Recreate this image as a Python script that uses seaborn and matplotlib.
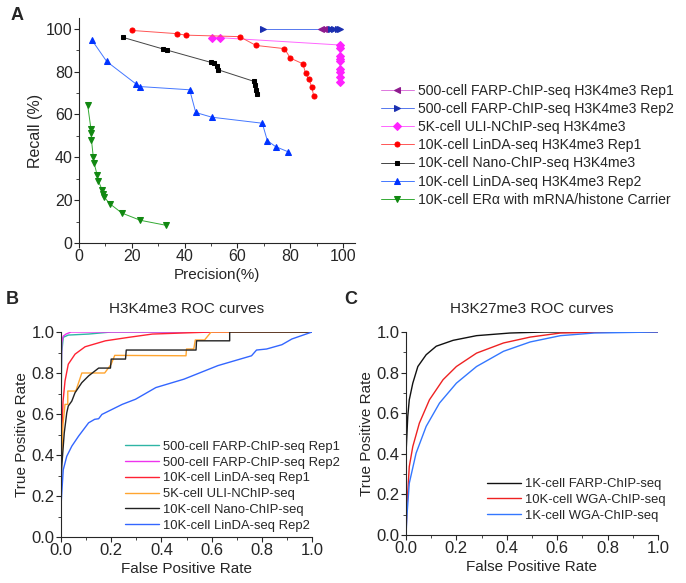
import matplotlib.pyplot as plt
from matplotlib.ticker import MultipleLocator
import seaborn as sns

# ---- panel A: precision / recall (%) ----
farp1_prec = [91.7, 92.6]
farp1_rec = [100.0, 100.0]
farp2_prec = [69.6, 95.3, 96.7, 98.0, 98.9]
farp2_rec = [100.0, 100.0, 100.0, 100.0, 100.0]
uli_prec = [50.2, 53.4, 98.8, 98.8, 98.8, 98.8, 98.8, 98.8, 98.8, 98.8, 98.8]
uli_rec = [95.8, 95.8, 92.4, 91.0, 87.4, 86.0, 84.8, 81.2, 80.0, 77.6, 75.0]
linda1_prec = [19.9, 37.0, 40.4, 60.8, 67.0, 77.8, 80.0, 84.8, 85.8, 87.1, 88.1, 88.9]
linda1_rec = [99.2, 97.7, 97.0, 96.3, 92.2, 90.7, 86.3, 83.6, 79.1, 76.3, 72.9, 68.5]
nano_prec = [16.8, 31.9, 33.4, 49.9, 51.1, 52.2, 52.8, 66.3, 66.6, 66.9, 67.4]
nano_rec = [95.9, 90.5, 90.0, 84.3, 83.8, 82.7, 80.8, 75.4, 73.8, 71.5, 69.6]
linda2_prec = [5.0, 10.5, 21.6, 23.1, 41.9, 44.2, 50.3, 69.4, 71.3, 74.4, 79.3]
linda2_rec = [94.5, 84.7, 74.2, 73.0, 71.5, 60.9, 58.7, 55.9, 47.8, 45.0, 42.5]
era_prec = [3.3, 4.5, 4.6, 4.7, 5.4, 5.7, 6.9, 7.3, 8.7, 9.1, 9.5, 11.6, 16.2, 23.2, 32.8]
era_rec = [64.2, 53.4, 51.4, 48.3, 40.2, 37.4, 31.6, 29.1, 24.9, 23.1, 21.5, 18.4, 14.0, 10.6, 8.3]

labels_a = ["500-cell FARP-ChIP-seq H3K4me3 Rep1",
            "500-cell FARP-ChIP-seq H3K4me3 Rep2",
            "5K-cell ULI-NChIP-seq H3K4me3",
            "10K-cell LinDA-seq H3K4me3 Rep1",
            "10K-cell Nano-ChIP-seq H3K4me3",
            "10K-cell LinDA-seq H3K4me3 Rep2",
            "10K-cell ERα with mRNA/histone Carrier"]

# ---- panel B: H3K4me3 ROC ----
b_farp1_fpr = [0, 0.0, 0.003, 0.009, 0.029, 0.11, 0.2, 1.0]
b_farp1_tpr = [0, 0.6, 0.9, 0.974, 0.985, 0.99, 1.0, 1.0]
b_farp2_fpr = [0, 0.0, 0.003, 0.009, 0.02, 0.04, 1.0]
b_farp2_tpr = [0, 0.7, 0.95, 0.98, 0.99, 1.0, 1.0]
b_linda1_fpr = [0, 0.0, 0.003, 0.008, 0.016, 0.029, 0.056, 0.096, 0.177, 0.27, 0.364, 0.6, 1.0]
b_linda1_tpr = [0, 0.3, 0.5, 0.66, 0.761, 0.843, 0.892, 0.928, 0.957, 0.974, 0.99, 1.0, 1.0]
b_uli_fpr = [0, 0.0, 0.008, 0.016, 0.027, 0.027, 0.059, 0.083, 0.174, 0.2, 0.214, 0.498, 0.5,
             0.529, 0.535, 0.572, 0.598, 1.0]
b_uli_tpr = [0, 0.3, 0.55, 0.647, 0.647, 0.712, 0.712, 0.80, 0.80, 0.843, 0.886, 0.884, 0.917,
             0.917, 0.961, 0.961, 1.0, 1.0]
b_nano_fpr = [0, 0.0, 0.003, 0.013, 0.023, 0.029, 0.043, 0.056, 0.083, 0.11, 0.15, 0.197, 0.2,
              0.257, 0.26, 0.538, 0.54, 0.672, 0.672, 1.0]
b_nano_tpr = [0, 0.2, 0.345, 0.508, 0.606, 0.639, 0.663, 0.704, 0.753, 0.786, 0.824, 0.824, 0.868,
              0.868, 0.912, 0.912, 0.957, 0.957, 1.0, 1.0]
b_linda2_fpr = [0, 0.0, 0.003, 0.009, 0.023, 0.043, 0.07, 0.11, 0.134, 0.15, 0.163, 0.244, 0.297,
                0.378, 0.49, 0.625, 0.759, 0.779, 0.819, 0.88, 0.92, 1.0]
b_linda2_tpr = [0, 0.15, 0.214, 0.328, 0.394, 0.443, 0.492, 0.557, 0.574, 0.577, 0.598, 0.647, 0.672,
                0.729, 0.77, 0.836, 0.884, 0.912, 0.917, 0.938, 0.966, 1.0]

labels_b = ["500-cell FARP-ChIP-seq Rep1", "500-cell FARP-ChIP-seq Rep2",
            "10K-cell LinDA-seq Rep1", "5K-cell ULI-NChIP-seq",
            "10K-cell Nano-ChIP-seq", "10K-cell LinDA-seq Rep2"]

# ---- panel C: H3K27me3 ROC ----
c_farp_fpr = [0, 0.0, 0.007, 0.013, 0.027, 0.047, 0.08, 0.12, 0.187, 0.28, 0.413, 0.55, 1.0]
c_farp_tpr = [0, 0.4, 0.584, 0.666, 0.748, 0.83, 0.888, 0.93, 0.959, 0.982, 0.995, 1.0, 1.0]
c_wga10k_fpr = [0, 0.004, 0.013, 0.027, 0.053, 0.093, 0.147, 0.2, 0.28, 0.387, 0.493, 0.613, 0.81, 1.0]
c_wga10k_tpr = [0, 0.15, 0.337, 0.436, 0.551, 0.666, 0.765, 0.83, 0.896, 0.946, 0.975, 0.995, 1.0, 1.0]
c_wga1k_fpr = [0, 0.004, 0.013, 0.04, 0.08, 0.133, 0.2, 0.28, 0.387, 0.493, 0.613, 0.747, 1.0]
c_wga1k_tpr = [0, 0.1, 0.255, 0.403, 0.535, 0.65, 0.748, 0.83, 0.905, 0.951, 0.982, 0.995, 1.0]

labels_c = ["1K-cell FARP-ChIP-seq", "10K-cell WGA-ChIP-seq", "1K-cell WGA-ChIP-seq"]

sns.set_style("ticks")
plt.rcParams['font.family'] = ['Liberation Sans', 'DejaVu Sans']

fig = plt.figure(figsize=(6.86, 5.83), dpi=100)
W, H = 686, 583


def px_axes(left, top, right, bottom):
    return fig.add_axes([left / W, 1 - bottom / H, (right - left) / W, (bottom - top) / H])


ax_a = px_axes(79, 18, 355, 243)
ax_b = px_axes(61, 332, 312, 537)
ax_c = px_axes(406, 332, 658, 535)

# panel A (rep2 drawn before rep1 so the purple markers sit on top)
series_a = [
    (farp1_prec, farp1_rec, "<", "#dd77dd", "#8e1a8e", 4.2),
    (farp2_prec, farp2_rec, ">", "#5577ee", "#1a2fb0", 4.2),
    (uli_prec, uli_rec, "D", "#ff66ff", "#ff22ff", 3.6),
    (linda1_prec, linda1_rec, "o", "#ff5555", "#ff0000", 3.6),
    (nano_prec, nano_rec, "s", "#444444", "#000000", 3.0),
    (linda2_prec, linda2_rec, "^", "#4477ff", "#0033ff", 4.4),
    (era_prec, era_rec, "v", "#33aa33", "#118811", 4.4),
]
handles = {}
for idx in [1, 0, 2, 3, 4, 5, 6]:
    x, y, m, lc, mc, ms = series_a[idx]
    sns.lineplot(x=x, y=y, ax=ax_a, sort=False, estimator=None, color=lc, lw=0.7,
                 marker=m, markersize=ms, markerfacecolor=mc, markeredgecolor=mc,
                 label=labels_a[idx])
    handles[labels_a[idx]] = ax_a.get_lines()[-1]

ax_a.set_xlim(0, 104.5)
ax_a.set_ylim(0, 105)
ax_a.xaxis.set_major_locator(MultipleLocator(20))
ax_a.xaxis.set_minor_locator(MultipleLocator(10))
ax_a.yaxis.set_major_locator(MultipleLocator(20))
ax_a.yaxis.set_minor_locator(MultipleLocator(10))
ax_a.set_xlabel("Precision(%)", fontsize=11, labelpad=3)
ax_a.set_ylabel("Recall (%)", fontsize=11.5, labelpad=2)
ax_a.tick_params(labelsize=11.5, pad=1)
ax_a.legend([handles[l] for l in labels_a], labels_a, loc="upper left",
            bbox_to_anchor=(375 / W, 1 - 78 / H),
            bbox_transform=fig.transFigure, frameon=False, fontsize=10.1,
            handlelength=2.4, handletextpad=0.3, labelspacing=0.3, borderaxespad=0)

# panel B
series_b = [
    (b_farp1_fpr, b_farp1_tpr, "#2fb5a5"),
    (b_farp2_fpr, b_farp2_tpr, "#ee33ee"),
    (b_linda1_fpr, b_linda1_tpr, "#ff2233"),
    (b_uli_fpr, b_uli_tpr, "#ffa530"),
    (b_nano_fpr, b_nano_tpr, "#222222"),
    (b_linda2_fpr, b_linda2_tpr, "#3366ff"),
]
for (x, y, c), lab in zip(series_b, labels_b):
    sns.lineplot(x=x, y=y, ax=ax_b, sort=False, estimator=None, color=c, lw=1.0, label=lab)

# panel C
series_c = [
    (c_farp_fpr, c_farp_tpr, "#111111"),
    (c_wga10k_fpr, c_wga10k_tpr, "#ee2222"),
    (c_wga1k_fpr, c_wga1k_tpr, "#3377ff"),
]
for (x, y, c), lab in zip(series_c, labels_c):
    sns.lineplot(x=x, y=y, ax=ax_c, sort=False, estimator=None, color=c, lw=1.0, label=lab)

for ax, title in [(ax_b, "H3K4me3 ROC curves"), (ax_c, "H3K27me3 ROC curves")]:
    ax.set_xlim(0, 1.0)
    ax.set_ylim(0, 1.0)
    ax.xaxis.set_major_locator(MultipleLocator(0.2))
    ax.xaxis.set_minor_locator(MultipleLocator(0.1))
    ax.yaxis.set_major_locator(MultipleLocator(0.2))
    ax.yaxis.set_minor_locator(MultipleLocator(0.1))
    ax.xaxis.set_major_formatter(plt.FormatStrFormatter("%.1f"))
    ax.yaxis.set_major_formatter(plt.FormatStrFormatter("%.1f"))
    ax.set_xlabel("False Positive Rate", fontsize=11, labelpad=3)
    ax.set_ylabel("True Positive Rate", fontsize=11, labelpad=2)
    ax.set_title(title, fontsize=11, pad=14)
    ax.tick_params(labelsize=12, pad=1)

ax_b.legend(loc="lower left", frameon=False, fontsize=9.4, handlelength=2.6,
            handletextpad=0.3, labelspacing=0.28, borderaxespad=0,
            bbox_to_anchor=(120 / W, 1 - 537 / H), bbox_transform=fig.transFigure)
ax_c.legend(loc="lower left", frameon=False, fontsize=9.4, handlelength=2.6,
            handletextpad=0.3, labelspacing=0.28, borderaxespad=0,
            bbox_to_anchor=(482 / W, 1 - 527 / H), bbox_transform=fig.transFigure)

for ax in (ax_a, ax_b, ax_c):
    sns.despine(ax=ax)
    ax.tick_params(which="both", direction="out")
    ax.tick_params(which="major", length=3.5)
    ax.tick_params(which="minor", length=2)

fig.text(17 / W, 1 - 16 / H, "A", fontsize=13, fontweight="bold", ha="center", va="center")
fig.text(12 / W, 1 - 300 / H, "B", fontsize=13, fontweight="bold", ha="center", va="center")
fig.text(351 / W, 1 - 300 / H, "C", fontsize=13, fontweight="bold", ha="center", va="center")

fig.savefig("out.png", dpi=100)
